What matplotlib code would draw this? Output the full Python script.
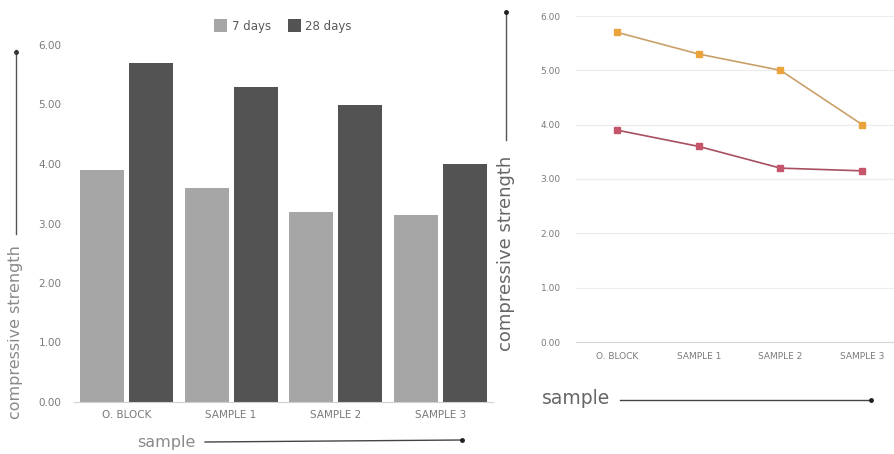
import matplotlib
matplotlib.use('Agg')
import matplotlib.pyplot as plt
import numpy as np

samples = ['O. BLOCK', 'SAMPLE 1', 'SAMPLE 2', 'SAMPLE 3']
days_7 = [3.90, 3.60, 3.20, 3.15]
days_28 = [5.70, 5.30, 5.00, 4.00]
yticks = [0, 1, 2, 3, 4, 5, 6]

W, H = 895, 454
fig = plt.figure(figsize=(W / 100, H / 100), dpi=100)
fig.patch.set_facecolor('white')


def px(x0, y0, x1, y1):
    # pixel box (left, top, right, bottom) -> figure fraction rect
    return [x0 / W, 1 - y1 / H, (x1 - x0) / W, (y1 - y0) / H]


tick_color = '#7a7a7a'
light, dark = '#a6a6a6', '#535353'

# ---------------- left: bar chart ----------------
ax1 = fig.add_axes(px(74, 45, 493, 402))
x = np.arange(len(samples))
w = 0.42
b1 = ax1.bar(x - 0.235, days_7, w, color=light, label='7 days')
b2 = ax1.bar(x + 0.235, days_28, w, color=dark, label='28 days')
ax1.set_xlim(-0.5, 3.5)
ax1.set_ylim(0, 6)
ax1.set_yticks(yticks)
ax1.set_yticklabels([f'{v:.2f}' for v in yticks])
ax1.set_xticks(x)
ax1.set_xticklabels(samples)
for s in ['top', 'right', 'left']:
    ax1.spines[s].set_visible(False)
ax1.spines['bottom'].set_color('#d0d0d0')
ax1.tick_params(length=0, labelsize=7.5, colors=tick_color)
ax1.tick_params(axis='y', pad=9)
ax1.tick_params(axis='x', pad=6)
fig.legend(handles=[b1, b2], loc='center', bbox_to_anchor=(283 / W, 1 - 26 / H),
           ncol=2, frameon=False, fontsize=8.5, handlelength=1.1,
           handleheight=1.3, handletextpad=0.4, columnspacing=1.4,
           labelcolor='#595959')

# ---------------- right: line chart ----------------
ax2 = fig.add_axes(px(576, 16, 895, 342))
ax2.plot(x, days_28, color='#c9a06a', lw=1.2, marker='s', ms=5,
         mfc='#eba43c', mec='#eba43c', zorder=3)
ax2.plot(x, days_7, color='#a8505e', lw=1.2, marker='s', ms=5,
         mfc='#c4556a', mec='#c4556a', zorder=3)
ax2.set_xlim(-0.5, 3.4)
ax2.set_ylim(0, 6)
ax2.set_yticks(yticks)
ax2.set_yticklabels([f'{v:.2f}' for v in yticks])
ax2.set_xticks(x)
ax2.set_xticklabels(samples)
ax2.grid(axis='y', color='#ececec', lw=0.8)
for s in ['top', 'right', 'left']:
    ax2.spines[s].set_visible(False)
ax2.spines['bottom'].set_color('#d6d6d6')
ax2.tick_params(length=0, labelsize=6.5, colors=tick_color)
ax2.tick_params(axis='y', pad=11)
ax2.tick_params(axis='x', pad=7)

# ---------------- axis titles with arrows ----------------
fig.text(16 / W, 1 - 332 / H, 'compressive strength', rotation=90,
         ha='center', va='center', fontsize=11.5, color='#8a8a8a')
fig.add_artist(plt.Line2D([16 / W, 16 / W], [1 - 234 / H, 1 - 50 / H],
                          color='#555555', lw=1.0))
fig.add_artist(plt.Line2D([16 / W], [1 - 52 / H], marker='o', ms=2.5,
                          color='#333333'))

fig.text(166 / W, 1 - 443 / H, 'sample', ha='center', va='center',
         fontsize=11.5, color='#8a8a8a')
fig.add_artist(plt.Line2D([205 / W, 462 / W], [1 - 442 / H, 1 - 440 / H],
                          color='#444444', lw=1.0))
fig.add_artist(plt.Line2D([462 / W], [1 - 440 / H], marker='o', ms=2.5,
                          color='#222222'))

fig.text(506 / W, 1 - 253 / H, 'compressive strength', rotation=90,
         ha='center', va='center', fontsize=13, color='#666666')
fig.add_artist(plt.Line2D([506 / W, 506 / W], [1 - 140 / H, 1 - 12 / H],
                          color='#555555', lw=1.0))
fig.add_artist(plt.Line2D([506 / W], [1 - 12 / H], marker='o', ms=2.5,
                          color='#222222'))

fig.text(576 / W, 1 - 399 / H, 'sample', ha='center', va='center',
         fontsize=13.5, color='#666666')
fig.add_artist(plt.Line2D([620 / W, 871 / W], [1 - 400 / H, 1 - 400 / H],
                          color='#444444', lw=1.0))
fig.add_artist(plt.Line2D([871 / W], [1 - 400 / H], marker='o', ms=2.5,
                          color='#222222'))

fig.savefig('out.png', dpi=100)
